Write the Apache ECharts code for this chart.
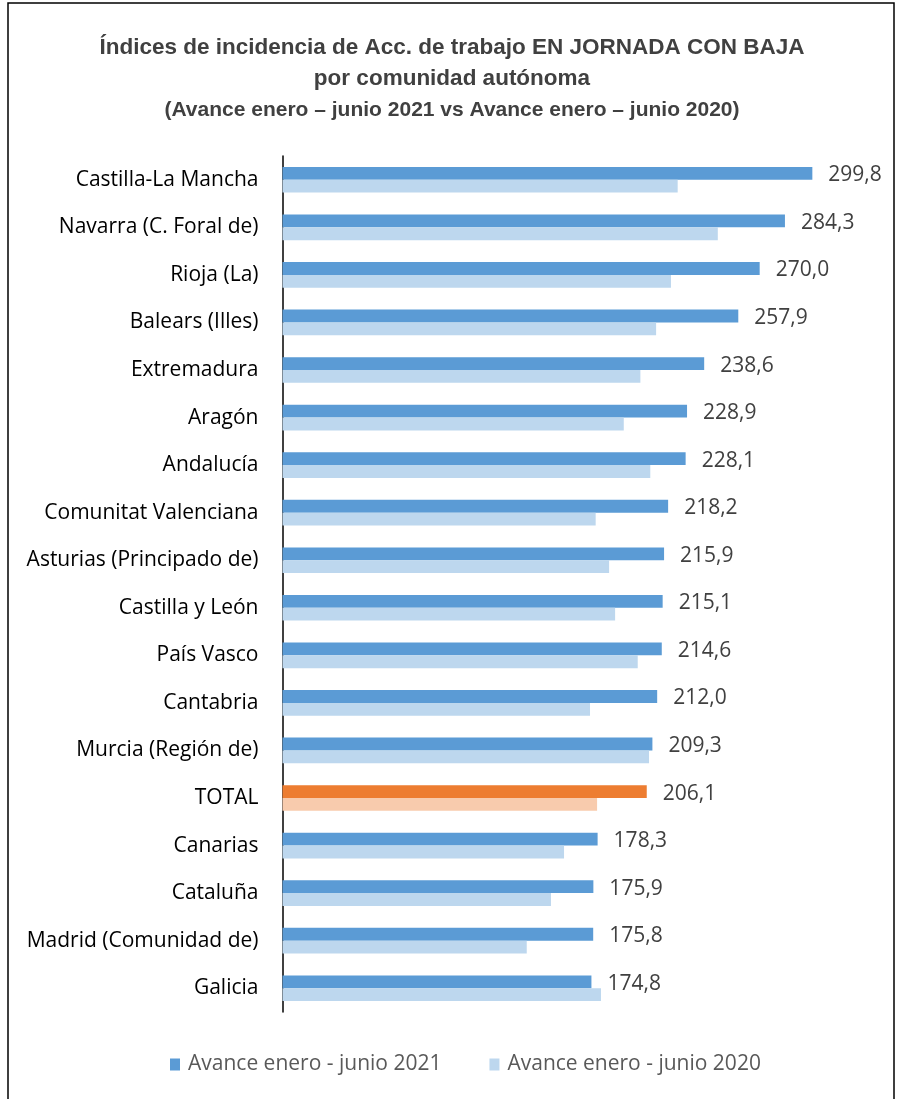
<!DOCTYPE html>
<html><head><meta charset="utf-8">
<script src="https://cdn.jsdelivr.net/npm/echarts@6/dist/echarts.min.js"></script>
<style>html,body{margin:0;padding:0;background:#fff}#c{width:904px;height:1099px}</style>
</head><body><div id="c"></div>
<script>
const categories = ["Castilla-La Mancha","Navarra (C. Foral de)","Rioja (La)","Balears (Illes)","Extremadura","Aragón","Andalucía","Comunitat Valenciana","Asturias (Principado de)","Castilla y León","País Vasco","Cantabria","Murcia (Región de)","TOTAL","Canarias","Cataluña","Madrid (Comunidad de)","Galicia"];
const values2021 = [299.8,284.3,270.0,257.9,238.6,228.9,228.1,218.2,215.9,215.1,214.6,212.0,209.3,206.1,178.3,175.9,175.8,174.8];
const values2020 = [223.6,246.3,219.8,211.4,202.5,193.1,208.1,177.2,184.8,188.2,201.0,174.0,207.4,178.0,159.3,151.9,138.2,180.2];
const seriesNames = ["Avance enero - junio 2021","Avance enero - junio 2020"];
const titleLines = ["Índices de incidencia de Acc. de trabajo EN JORNADA CON BAJA","por comunidad autónoma","(Avance enero – junio 2021 vs Avance enero – junio 2020)"];

const TFONT = "Liberation Sans";
const FONT = "Open Sans";
const chart = echarts.init(document.getElementById('c'), null, {renderer:'canvas'});
const d21 = values2021.map((v,i)=> categories[i]==="TOTAL" ? {value:v,itemStyle:{color:'#ED7D31'}} : v);
const d20 = values2020.map((v,i)=> categories[i]==="TOTAL" ? {value:v,itemStyle:{color:'#F8CBAD'}} : v);
chart.setOption({
  animation:false,
  textStyle:{fontFamily:FONT},
  graphic:[{type:'rect',shape:{x:8,y:3,width:886,height:1120},style:{fill:'none',stroke:'#000',lineWidth:1.5},silent:true}],
  title:[
    {text:titleLines[0],left:'center',top:31,textStyle:{fontFamily:TFONT,fontSize:22.5,fontWeight:'bold',color:'#404040'}},
    {text:titleLines[1],left:'center',top:62,textStyle:{fontFamily:TFONT,fontSize:22.5,fontWeight:'bold',color:'#404040'}},
    {text:titleLines[2],left:'center',top:95,textStyle:{fontFamily:TFONT,fontSize:21,fontWeight:'bold',color:'#404040'}}
  ],
  legend:{top:1049,left:165,itemWidth:10,itemHeight:12,itemGap:48,icon:'rect',
    textStyle:{fontFamily:FONT,fontSize:21,color:'#595959',padding:[0,0,0,3]},data:seriesNames},
  grid:{left:282.5,top:156,width:530.2,height:856,containLabel:false},
  xAxis:{type:'value',min:0,max:300,show:false},
  yAxis:{type:'category',data:categories,inverse:true,
    axisLine:{show:true,lineStyle:{color:'#000',width:1.5}},axisTick:{show:false},
    axisLabel:{fontFamily:FONT,fontSize:21,color:'#000',margin:24}},
  series:[
    {name:seriesNames[0],type:'bar',data:d21,itemStyle:{color:'#5B9BD5'},barGap:'0%',barCategoryGap:'46%',
      label:{show:true,position:'right',distance:16,offset:[0,2],fontFamily:FONT,fontSize:21,color:'#404040',
        formatter:p=>p.value.toFixed(1).replace('.',',')}},
    {name:seriesNames[1],type:'bar',data:d20,itemStyle:{color:'#BDD7EE'},barGap:'0%',barCategoryGap:'46%'}
  ]
});
</script></body></html>
